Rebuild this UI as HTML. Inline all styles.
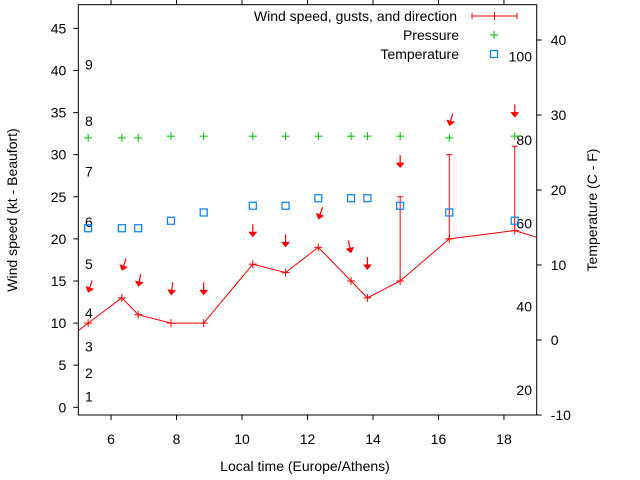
<!DOCTYPE html>
<html><head><meta charset="utf-8"><style>
body{margin:0;background:#fff;}
svg{display:block;font-family:"Liberation Sans",sans-serif;}
</style></head><body>
<svg id="chart" width="640" height="480" viewBox="0 0 640 480"></svg>
<script>
const times=[5.3,6.33,6.83,7.83,8.83,10.33,11.33,12.33,13.33,13.83,14.83,16.33,18.33];
const windSpeed=[10,13,11,10,10,17,16,19,15,13,15,20,21];
const gusts=[null,null,null,null,null,null,null,null,null,null,25,30,31];
const lineTimes=[4.3,5.3,6.33,6.83,7.83,8.83,10.33,11.33,12.33,13.33,13.83,14.83,16.33,18.33,19.33];
const lineSpeed=[7,10,13,11,10,10,17,16,19,15,13,15,20,21,19.8];
const pressure=[32.0,32.0,32.0,32.2,32.2,32.2,32.2,32.2,32.2,32.2,32.2,32.0,32.2];
const temperature=[14.9,14.9,14.9,15.9,17,17.9,17.9,18.9,18.9,18.9,17.9,17,15.9];
const arrowTip=[13.6,16.2,14.3,13.3,13.3,20.2,19.0,22.3,18.3,16.3,28.4,33.4,34.4];
const arrowDir=[18,19,11,8,0,0,0,19,-12,0,0,15,0];
const xTicks=[6,8,10,12,14,16,18];
const yTicks=[0,5,10,15,20,25,30,35,40,45];
const y2Ticks=[-10,0,10,20,30,40];
const beaufort=[1,2,3,4,5,6,7,8,9];
const beaufortKt=[1.3,4.1,7.2,11.2,17,22,28,34,40.7];
const fahrenheit=[20,40,60,80,100];

const L=78.3,R=536.7,T=4.7,B=415;
const X=v=>L+(v-5)/(19-5)*(R-L);
const Y=v=>407.3-v*8.42;
const Y2=v=>340-v*7.5;
const F2C=f=>(f-32)*5/9;
const svg=document.getElementById('chart');
const NS='http://www.w3.org/2000/svg';
function mk(tag,attrs,parent){const e=document.createElementNS(NS,tag);for(const k in attrs)e.setAttribute(k,attrs[k]);(parent||svg).appendChild(e);return e;}
function txt(s,x,y,anchor,parent){const e=mk('text',{x:x,y:y,'font-size':14,'text-anchor':anchor||'middle',fill:'#000'},parent);e.textContent=s;return e;}

const defs=mk('defs',{});
const cp=mk('clipPath',{id:'plotclip'},defs);
mk('rect',{x:L,y:T,width:R-L,height:B-T},cp);

const box=mk('rect',{x:L,y:T,width:R-L,height:B-T,fill:'none',stroke:'#000','stroke-width':1});



xTicks.forEach(v=>{
  const g=mk('g',{});
  
  
  mk('line',{x1:X(v),x2:X(v),y1:B,y2:B+5,stroke:'#000'},g);
  mk('line',{x1:X(v),x2:X(v),y1:T,y2:T-5,stroke:'#000'},g);
  txt(String(v),X(v),B+29,'middle',g);
});
yTicks.forEach(v=>{
  const g=mk('g',{});
  
  
  mk('line',{x1:L-5,x2:L,y1:Y(v),y2:Y(v),stroke:'#000'},g);
  txt(String(v),L-12,Y(v)+5,'end',g);
});
y2Ticks.forEach(v=>{
  const g=mk('g',{});
  
  
  mk('line',{x1:R,x2:R+5,y1:Y2(v),y2:Y2(v),stroke:'#000'},g);
  txt(String(v),R+14,Y2(v)+5,'start',g);
});
beaufort.forEach((b,i)=>{
  const t=txt(String(b),85,Y(beaufortKt[i])+5,'start');
  
  
});
fahrenheit.forEach(f=>{
  const t=txt(String(f),532,Y2(F2C(f))+5,'end');
  
  
});

const plot=mk('g',{'clip-path':'url(#plotclip)'});



const pl=mk('polyline',{points:lineTimes.map((t,i)=>X(t)+','+Y(lineSpeed[i])).join(' '),fill:'none',stroke:'#f00','stroke-width':1},plot);



times.forEach((t,i)=>{
  const x=X(t),y=Y(windSpeed[i]);
  const g=mk('g',{stroke:'#f00','stroke-width':1},plot);
  
  
  mk('line',{x1:x-4,x2:x+4,y1:y,y2:y},g);
  mk('line',{x1:x,x2:x,y1:y-4,y2:y+4},g);
  if(gusts[i]!=null){
    const gy=Y(gusts[i]);
    const e=mk('g',{stroke:'#f00'},plot);
    
    
    mk('line',{x1:x,x2:x,y1:y,y2:gy},e);
    mk('line',{x1:x-3,x2:x+3,y1:gy,y2:gy},e);
    mk('line',{x1:x-3,x2:x+3,y1:y,y2:y},e);
  }
  const py=Y(pressure[i]);
  const pg=mk('g',{stroke:'#00c000'},plot);
  
  
  mk('line',{x1:x-4,x2:x+4,y1:py,y2:py},pg);
  mk('line',{x1:x,x2:x,y1:py-4,y2:py+4},pg);
  const ty=Y2(temperature[i]);
  const sq=mk('rect',{x:x-3.5,y:ty-3.5,width:7,height:7,fill:'none',stroke:'#0080ff','stroke-width':1.2},plot);
  
  
  const tipY=Y(arrowTip[i]);
  const a=mk('g',{transform:`translate(${x},${tipY}) rotate(${arrowDir[i]})`},plot);
  
  
  mk('line',{x1:0,y1:-13,x2:0,y2:-3,stroke:'#f00','stroke-width':1.2},a);
  mk('polygon',{points:'0,0 -4.5,-5.5 4.5,-5.5',fill:'#f00'},a);
});

const lg=mk('g',{});


txt('Wind speed, gusts, and direction',457,21,'end',lg);
mk('line',{x1:472,x2:517,y1:16,y2:16,stroke:'#f00'},lg);
mk('line',{x1:472,x2:472,y1:13,y2:19,stroke:'#f00'},lg);
mk('line',{x1:517,x2:517,y1:13,y2:19,stroke:'#f00'},lg);
mk('line',{x1:494.5,x2:494.5,y1:12,y2:20,stroke:'#f00'},lg);
txt('Pressure',459,40,'end',lg);
mk('line',{x1:490,x2:498,y1:35,y2:35,stroke:'#00c000'},lg);
mk('line',{x1:494,x2:494,y1:31,y2:39,stroke:'#00c000'},lg);
txt('Temperature',459,59,'end',lg);
mk('rect',{x:490.5,y:50.5,width:7,height:7,fill:'none',stroke:'#0080ff','stroke-width':1.2},lg);

const xt=txt('Local time (Europe/Athens)',305,471,'middle');


const yt=txt('Wind speed (kt - Beaufort)',0,0,'middle');
yt.setAttribute('transform','translate(17,210) rotate(-90)');


const y2t=txt('Temperature (C - F)',0,0,'middle');
y2t.setAttribute('transform','translate(602,210) rotate(-90)');
y2t.setAttribute('x',0);
y2t.setAttribute('transform','translate(602,210) rotate(-90)');
y2t.setAttribute('transform','translate(602,210) rotate(-90)');
y2t.setAttribute('transform','translate(602,210) rotate(-90)');
y2t.setAttribute('transform','translate(602,210) rotate(-90)');


y2t.setAttribute('transform','translate(602,210) rotate(-90)');
y2t.setAttribute('transform','translate(602,210) rotate(-90)');
y2t.setAttribute('transform','translate(602,210) rotate(-90)');
y2t.setAttribute('transform','translate(602,210) rotate(-90)');
y2t.setAttribute('transform','translate(602,210) rotate(-90)');
y2t.setAttribute('transform','translate(602,210) rotate(-90)');
y2t.setAttribute('transform','translate(602,210) rotate(-90)');
y2t.setAttribute('transform','translate(602,210) rotate(-90)');
y2t.setAttribute('transform','translate(602,210) rotate(-90)');
y2t.setAttribute('transform','translate(602,210) rotate(-90)');
y2t.setAttribute('transform','translate(602,210) rotate(-90)');
y2t.setAttribute('transform','translate(602,210) rotate(-90)');
y2t.setAttribute('transform','translate(602,210) rotate(-90)');
y2t.setAttribute('transform','translate(602,210) rotate(-90)');
y2t.setAttribute('transform','translate(602,210) rotate(-90)');
y2t.setAttribute('transform','translate(597,210) rotate(-90)');
</script>
</body></html>
